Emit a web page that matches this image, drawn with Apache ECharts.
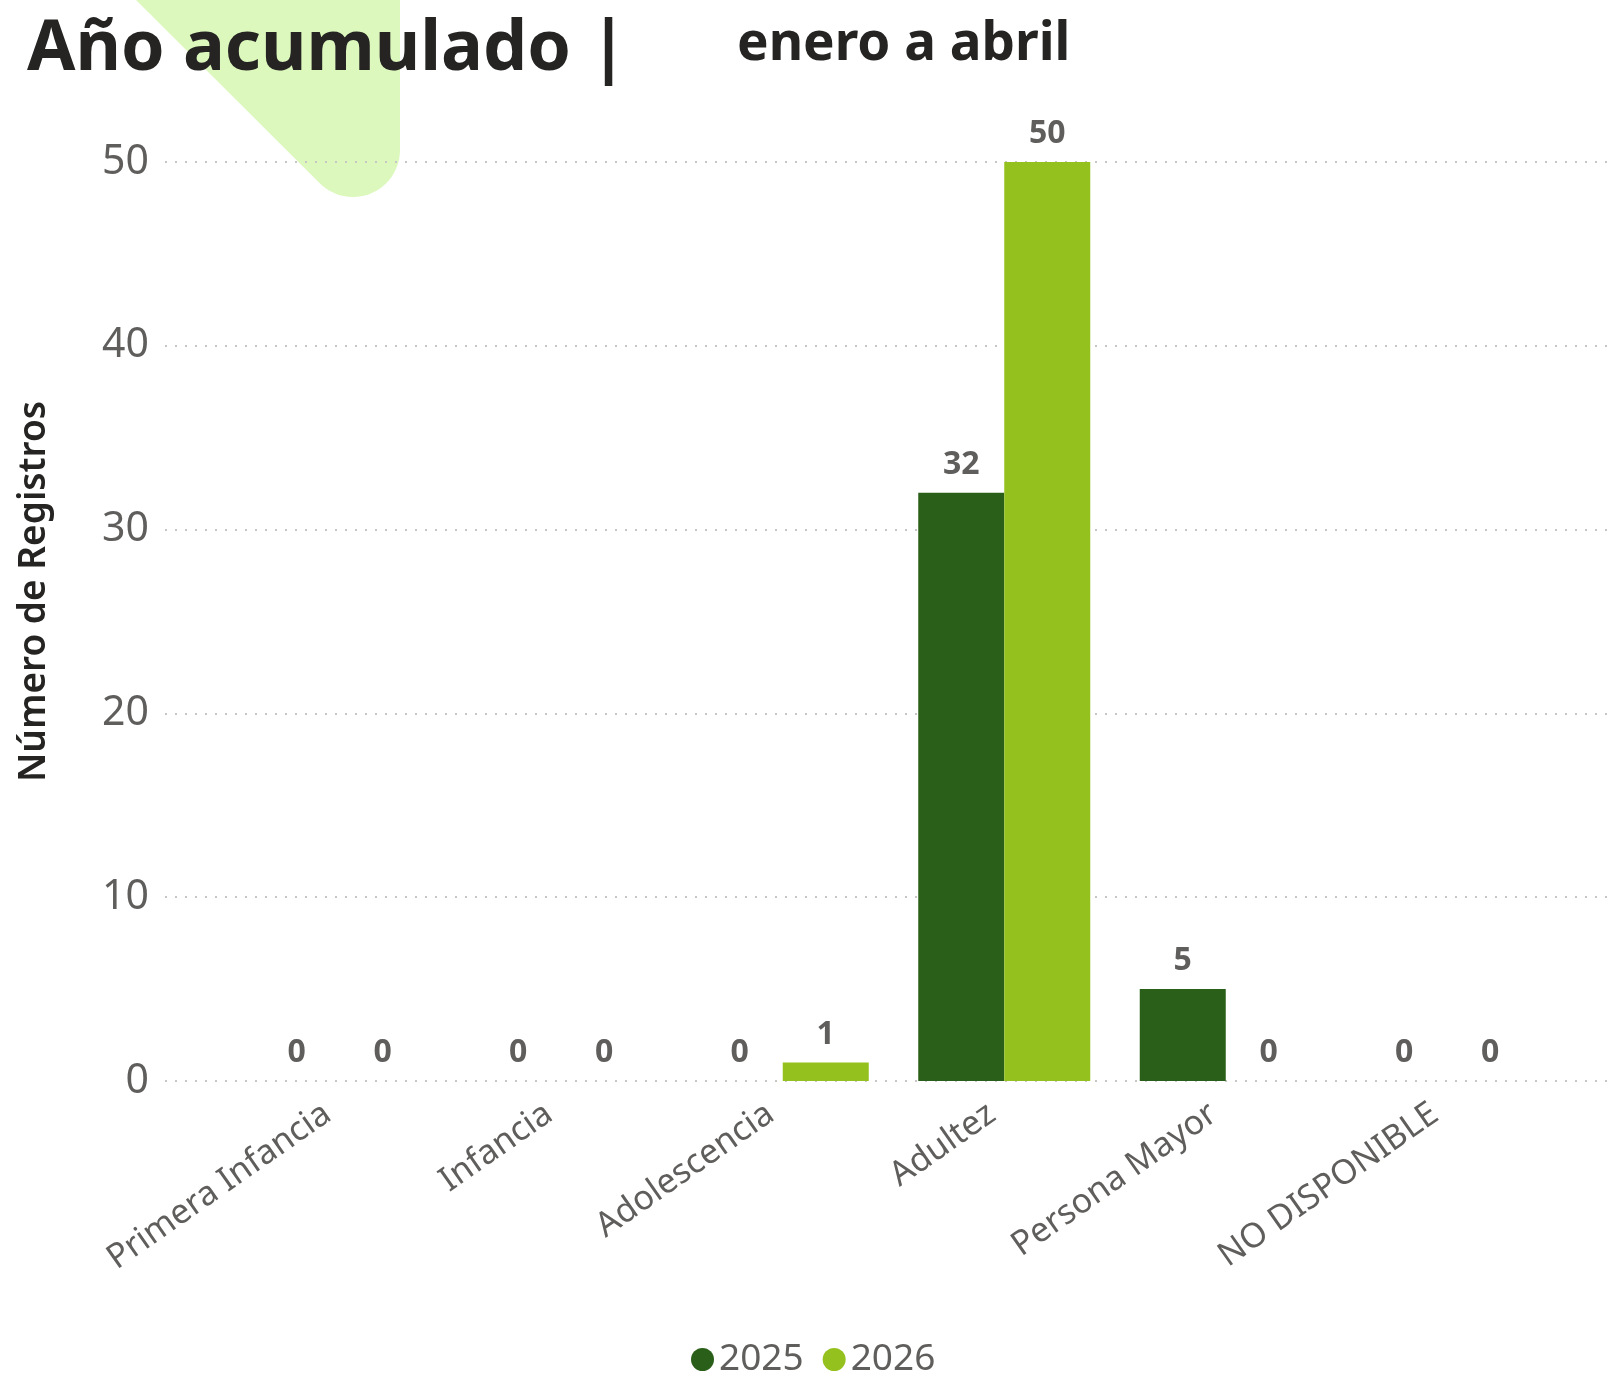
<!DOCTYPE html>
<html>
<head>
<meta charset="utf-8">
<title>Año acumulado</title>
<script src="https://cdn.jsdelivr.net/npm/echarts@6/dist/echarts.min.js"></script>
<style>
  html, body { margin: 0; padding: 0; background: #fff; }
  #chart { width: 1615px; height: 1376px; }
</style>
</head>
<body>
<div id="chart"></div>
<script>
// datos
var categories = ['Primera Infancia', 'Infancia', 'Adolescencia', 'Adultez', 'Persona Mayor', 'NO DISPONIBLE'];
var values2025 = [0, 0, 0, 32, 5, 0];
var values2026 = [0, 0, 1, 50, 0, 0];
var yTicks = [0, 10, 20, 30, 40, 50];

var FONT = '"Noto Sans", "Open Sans", sans-serif';
var GREY = '#605E5C';

// forma decorativa verde claro detras del titulo
function decoShape() {
  var pts = [[136, 0], [400, 0], [400, 150]];
  var cx = 353, cy = 150, r = 47;
  for (var a = 0; a <= 135; a += 5) {
    var t = a * Math.PI / 180;
    pts.push([cx + r * Math.cos(t), cy + r * Math.sin(t)]);
  }
  return pts;
}

var myChart = echarts.init(document.getElementById('chart'));

var labelStyle = {
  show: true,
  position: 'top',
  distance: 12,
  fontFamily: FONT,
  fontWeight: 'bold',
  fontSize: 32,
  color: GREY
};

var option = {
  backgroundColor: '#fff',
  animation: false,
  graphic: [
    {
      type: 'polygon',
      z: -10,
      shape: { points: decoShape() },
      style: { fill: '#DCF8BD' }
    }
  ],
  title: [
    {
      text: 'Año acumulado |',
      left: 22,
      top: 10,
      textStyle: { fontFamily: FONT, fontWeight: 'bold', fontSize: 70, color: '#252423' }
    },
    {
      text: 'enero a abril',
      left: 732,
      top: 13,
      textStyle: { fontFamily: FONT, fontWeight: 'bold', fontSize: 53, color: '#252423' }
    }
  ],
  legend: {
    data: ['2025', '2026'],
    left: 686,
    bottom: -7,
    icon: 'circle',
    itemWidth: 23,
    itemHeight: 23,
    itemGap: 19,
    textStyle: { fontFamily: FONT, fontSize: 37, color: GREY, padding: [0, 0, 0, 0] }
  },
  grid: [
    { left: 229, right: 57, top: 162, bottom: 295 },
    { left: 165, right: 3, top: 162, bottom: 295 }
  ],
  xAxis: [
    {
      type: 'category',
      gridIndex: 0,
      data: categories,
      axisLine: { show: false },
      axisTick: { show: false },
      axisLabel: {
        rotate: 35,
        margin: 21,
        padding: [0, 15, 0, 0],
        fontFamily: FONT,
        fontSize: 34,
        color: GREY,
        interval: 0
      }
    },
    {
      type: 'value',
      gridIndex: 1,
      show: false
    }
  ],
  yAxis: [
    {
      type: 'value',
      gridIndex: 0,
      min: 0,
      max: 50,
      interval: 10,
      axisLabel: { show: false },
      axisLine: { show: false },
      axisTick: { show: false },
      splitLine: { show: false }
    },
    {
      type: 'value',
      gridIndex: 1,
      min: yTicks[0],
      max: yTicks[yTicks.length - 1],
      interval: 10,
      name: 'Número de Registros',
      nameLocation: 'middle',
      nameGap: 112,
      nameTextStyle: { fontFamily: FONT, fontSize: 37, fontWeight: 600, color: '#252423', padding: [0, 0, 0, 60] },
      axisLine: { show: false },
      axisTick: { show: false },
      axisLabel: { margin: 16, fontFamily: FONT, fontSize: 41, color: GREY },
      splitLine: { lineStyle: { type: [2, 8], color: '#C8C6C4', width: 2 } }
    }
  ],
  series: [
    {
      name: '2025',
      type: 'bar',
      xAxisIndex: 0,
      yAxisIndex: 0,
      data: values2025,
      barWidth: 86,
      barGap: '0%',
      itemStyle: { color: '#2A5F1A' },
      label: labelStyle
    },
    {
      name: '2026',
      type: 'bar',
      xAxisIndex: 0,
      yAxisIndex: 0,
      data: values2026,
      barWidth: 86,
      barGap: '0%',
      itemStyle: { color: '#95C11F' },
      label: labelStyle
    }
  ]
};

myChart.setOption(option);
</script>
</body>
</html>
